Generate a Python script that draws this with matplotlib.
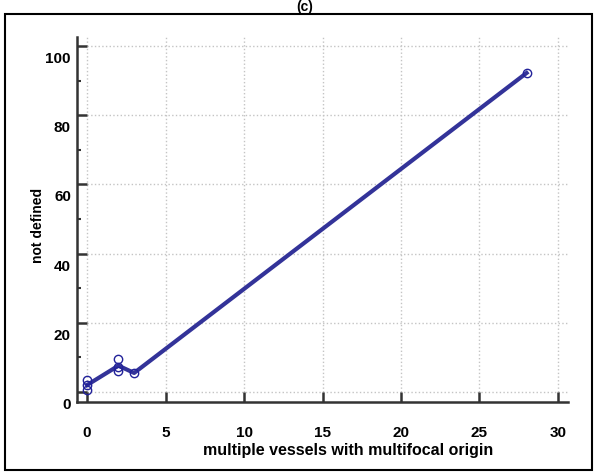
import matplotlib
matplotlib.use("Agg")
import matplotlib.pyplot as plt
import matplotlib.transforms as mtransforms
from matplotlib.patches import Rectangle
import pandas as pd

# %%
# values (c)
vessels = [0, 0, 0, 2, 2, 2, 3, 28]
not_defined = [3.4, 2.0, 0.6, 9.5, 7.2, 6.1, 5.5, 92.2]
x_ticks = [0, 5, 10, 15, 20, 25, 30]
y_ticks = [0, 20, 40, 60, 80, 100]
y_minor = [10, 30, 50, 70, 90]

df = pd.DataFrame({"x": vessels, "y": not_defined})
means = df.groupby("x").y.mean()

plt.rcParams["font.family"] = ["Liberation Sans", "DejaVu Sans"]
plt.rcParams["font.weight"] = "bold"

W, H = 597, 474
fig = plt.figure(figsize=(W / 100, H / 100), dpi=100)
ax = fig.add_axes([77 / W, 72 / H, 491 / W, 365 / H])
ax.set_xlim(-0.64, 30.64)
ax.set_ylim(-2.9, 102.6)

# frame round the whole figure
fig.patches.append(Rectangle((5 / W, 4 / H), 587 / W, 456 / H, transform=fig.transFigure,
                             fill=False, edgecolor="black", linewidth=1.5))
fig.text(305 / W, 1 - 11 / H, "(c)", ha="center", va="baseline", fontsize=10, fontweight="bold")

# grid, only over the data range
grid_kw = dict(color="#c4c4c4", linestyle=":", linewidth=1, zorder=0)
ax.vlines(x_ticks, 0, ax.get_ylim()[1], **grid_kw)
ax.hlines(y_ticks, 0, ax.get_xlim()[1], **grid_kw)

ax.plot(means.index, means.values, color="#333399", linewidth=3, zorder=2)
ax.plot(df.x, df.y, "o", markersize=6, markerfacecolor="none", markeredgecolor="#22229a",
        markeredgewidth=1, zorder=3)

for s in ["top", "right"]:
    ax.spines[s].set_visible(False)
for s in ["left", "bottom"]:
    ax.spines[s].set_color("#333333")
    ax.spines[s].set_linewidth(1.8)

ax.set_xticks(x_ticks)
ax.set_yticks(y_ticks)
ax.set_yticks(y_minor, minor=True)
ax.tick_params(which="major", direction="in", length=7.5, width=1.8, color="#333333")
ax.tick_params(which="minor", direction="in", length=3, width=1.5, color="#333333")
ax.tick_params(axis="x", labelsize=11, pad=17)
ax.set_yticklabels([])

# y labels sit a little below their ticks in the original
off = mtransforms.offset_copy(ax.get_yaxis_transform(), fig=fig, x=-6, y=-13, units="dots")
for v in y_ticks:
    ax.text(0, v, str(v), transform=off, ha="right", va="center", fontsize=11, fontweight="bold")

fig.text(348 / W, 1 - 450 / H, "multiple vessels with multifocal origin", ha="center",
         va="center", fontsize=11.5, fontweight="bold")
fig.text(38 / W, 1 - 225 / H, "not defined", ha="center", va="center", rotation=90,
         fontsize=10, fontweight="bold")

fig.savefig("out.png", dpi=100)
